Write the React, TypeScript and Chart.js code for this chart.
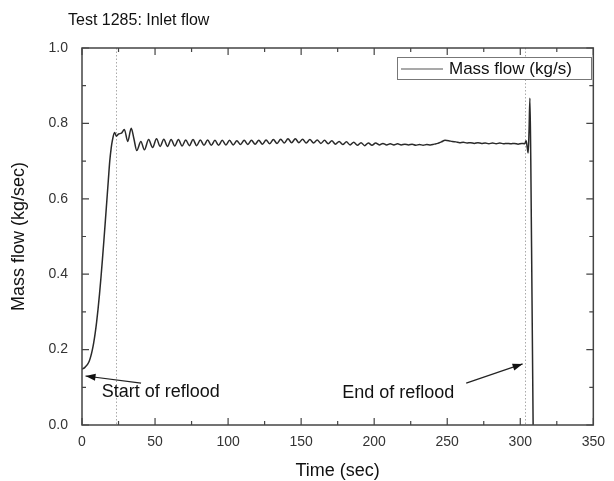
import React, { useEffect, useRef } from "react";
import { Chart, registerables } from "chart.js";

Chart.register(...registerables);

// ---- data ----
const timeSec = [
  0, 1, 2, 3, 4, 5, 6, 7, 8, 9, 10, 11, 12, 13, 14, 15, 16, 17, 18, 19, 20, 20.8, 22.3, 23.5, 25, 27, 29, 31.3,
  33.7, 35.5, 37.5, 40.3, 42.7, 45.6, 48.3,
  51, 53.5, 56, 58.5, 61, 63.5, 66, 68.5, 71, 73.5, 76, 78.5, 81, 83.5, 86, 88.5, 91, 93.5, 96, 98.5,
  101, 103.5, 106, 108.5, 111, 113.5, 116, 118.5, 121, 123.5, 126, 128.5, 131, 133.5, 136, 138.5,
  141, 143.5, 146, 148.5, 151, 153.5, 156, 158.5, 161, 163.5, 166, 168.5, 171, 173.5, 176, 178.5,
  181, 183.5, 186, 188.5, 191, 193.5, 196, 198.5, 201, 203.5, 206, 208.5, 211, 213.5, 216, 218.5,
  221, 223.5, 226, 228.5, 231, 233.5, 236, 238.5, 241, 243.5, 246, 248.5, 251, 253.5, 256, 258.5,
  261, 263.5, 266, 268.5, 271, 273.5, 276, 278.5, 281, 283.5, 286, 288.5, 291, 293.5, 296, 298.5,
  301, 303, 304, 304.8, 305.4, 306, 306.6, 307.2, 308, 308.8,
];
const massFlow = [
  0.148, 0.15, 0.153, 0.157, 0.162, 0.17, 0.182, 0.198, 0.218, 0.243, 0.273, 0.308, 0.348, 0.392, 0.44, 0.49,
  0.542, 0.595, 0.648, 0.7, 0.735, 0.755, 0.776, 0.766, 0.772, 0.774, 0.784, 0.752,
  0.787, 0.76, 0.728, 0.752, 0.73, 0.757, 0.736,
  0.759, 0.739, 0.758, 0.739, 0.757, 0.74, 0.757, 0.74, 0.756, 0.741, 0.757, 0.741, 0.756, 0.742, 0.756, 0.742,
  0.755, 0.742, 0.755, 0.743,
  0.755, 0.743, 0.754, 0.744, 0.755, 0.744, 0.755, 0.745, 0.755, 0.745, 0.756, 0.746, 0.757, 0.747, 0.758, 0.748,
  0.759, 0.749, 0.759, 0.749, 0.758, 0.748, 0.757, 0.748, 0.756, 0.747, 0.755, 0.746, 0.754, 0.745, 0.752, 0.744,
  0.751, 0.743, 0.75, 0.742, 0.749, 0.741, 0.748, 0.742, 0.748, 0.743, 0.747, 0.743, 0.746, 0.743, 0.746, 0.743,
  0.745, 0.743, 0.745, 0.742, 0.744, 0.742, 0.744, 0.743, 0.745, 0.747, 0.751, 0.755, 0.754, 0.752, 0.751, 0.749,
  0.75, 0.748, 0.749, 0.747, 0.749, 0.747, 0.748, 0.746, 0.748, 0.746, 0.748, 0.746, 0.747, 0.746, 0.747, 0.745,
  0.747, 0.746, 0.754, 0.735, 0.722, 0.78, 0.867, 0.7, 0.35, 0,
];

const xTickValues = [0, 50, 100, 150, 200, 250, 300, 350];
const yTickValues = [0, 0.2, 0.4, 0.6, 0.8, 1.0];
const refloodStart = 23.6;
const refloodEnd = 303;

const chartTitle = "Test 1285: Inlet flow";
const seriesLabel = "Mass flow (kg/s)";
const xTitle = "Time (sec)";
const yTitle = "Mass flow (kg/sec)";
const startNote = "Start of reflood";
const endNote = "End of reflood";

// ---- styling / layout constants ----
const W = 614;
const H = 481;
const FONT = "'Liberation Sans', Arial, Helvetica, sans-serif";
const LINE = "#2a2a2a";
const AXIS = "#444";

const decorPlugin = {
  id: "decor",
  beforeDraw(chart: any) {
    const c = chart.ctx;
    c.save();
    c.fillStyle = "#fff";
    c.fillRect(0, 0, chart.width, chart.height);
    c.restore();
  },
  beforeDatasetsDraw(chart: any) {
    const c = chart.ctx;
    const { top, bottom } = chart.chartArea;
    const xs = chart.scales.x;
    c.save();
    c.strokeStyle = "#aaa";
    c.lineWidth = 1;
    c.setLineDash([1.5, 2]);
    [refloodStart, refloodEnd].forEach((t) => {
      const px = Math.round(xs.getPixelForValue(t)) + 0.5;
      c.beginPath();
      c.moveTo(px, top);
      c.lineTo(px, bottom);
      c.stroke();
    });
    c.restore();
  },
  afterDatasetsDraw(chart: any) {
    const c = chart.ctx;
    const { left, right, top, bottom } = chart.chartArea;
    const xs = chart.scales.x;
    const ys = chart.scales.y;
    c.save();
    // border
    c.strokeStyle = AXIS;
    c.lineWidth = 1.5;
    c.strokeRect(left, top, right - left, bottom - top);
    // inner ticks
    c.lineWidth = 1.2;
    const major = 7;
    const minor = 4;
    for (let v = 0; v <= 350; v += 25) {
      const px = xs.getPixelForValue(v);
      const len = v % 50 === 0 ? major : minor;
      c.beginPath();
      c.moveTo(px, bottom);
      c.lineTo(px, bottom - len);
      c.moveTo(px, top);
      c.lineTo(px, top + len);
      c.stroke();
    }
    for (let i = 0; i <= 10; i++) {
      const v = i / 10;
      const py = ys.getPixelForValue(v);
      const len = i % 2 === 0 ? major : minor;
      c.beginPath();
      c.moveTo(left, py);
      c.lineTo(left + len, py);
      c.moveTo(right, py);
      c.lineTo(right - len, py);
      c.stroke();
    }
    // legend
    const lx = 397, ly = 57, lw = 194, lh = 22;
    c.fillStyle = "#fff";
    c.fillRect(lx, ly, lw, lh);
    c.strokeStyle = "#777";
    c.lineWidth = 1;
    c.strokeRect(lx + 0.5, ly + 0.5, lw, lh);
    c.strokeStyle = "#555";
    c.lineWidth = 1.2;
    c.beginPath();
    c.moveTo(lx + 4, ly + lh / 2 + 1);
    c.lineTo(lx + 46, ly + lh / 2 + 1);
    c.stroke();
    c.fillStyle = "#111";
    c.font = `17px ${FONT}`;
    c.textBaseline = "middle";
    c.textAlign = "left";
    c.fillText(seriesLabel, lx + 52, ly + lh / 2 + 1);
    // title
    c.font = `16px ${FONT}`;
    c.fillStyle = "#111";
    c.fillText(chartTitle, 68, 21);
    // axis titles
    c.font = `18px ${FONT}`;
    c.textAlign = "center";
    c.fillText(xTitle, (left + right) / 2, 471);
    c.save();
    c.translate(19, (top + bottom) / 2);
    c.rotate(-Math.PI / 2);
    c.fillText(yTitle, 0, 0);
    c.restore();
    // annotations
    c.textAlign = "left";
    c.fillText(startNote, xs.getPixelForValue(13.5), ys.getPixelForValue(0.088));
    c.textAlign = "right";
    c.fillText(endNote, xs.getPixelForValue(254.8), ys.getPixelForValue(0.085));
    const arrow = (x1: number, y1: number, x2: number, y2: number) => {
      const ax = xs.getPixelForValue(x1), ay = ys.getPixelForValue(y1);
      const bx = xs.getPixelForValue(x2), by = ys.getPixelForValue(y2);
      c.strokeStyle = "#222";
      c.fillStyle = "#111";
      c.lineWidth = 1.2;
      c.beginPath();
      c.moveTo(ax, ay);
      c.lineTo(bx, by);
      c.stroke();
      const ang = Math.atan2(by - ay, bx - ax);
      const hl = 10, hw = 3.5;
      c.beginPath();
      c.moveTo(bx, by);
      c.lineTo(bx - hl * Math.cos(ang) + hw * Math.sin(ang), by - hl * Math.sin(ang) - hw * Math.cos(ang));
      c.lineTo(bx - hl * Math.cos(ang) - hw * Math.sin(ang), by - hl * Math.sin(ang) + hw * Math.cos(ang));
      c.closePath();
      c.fill();
    };
    arrow(40.4, 0.111, 2.4, 0.13);
    arrow(263, 0.111, 301.6, 0.162);
    c.restore();
  },
};

export default function App() {
  const ref = useRef<HTMLCanvasElement | null>(null);
  useEffect(() => {
    document.body.style.margin = "0";
    const canvas = ref.current!;
    const points = timeSec.map((t, i) => ({ x: t, y: massFlow[i] }));
    const chart = new Chart(canvas, {
      type: "line",
      data: {
        datasets: [
          {
            label: seriesLabel,
            data: points,
            borderColor: LINE,
            borderWidth: 1.5,
            pointRadius: 0,
            cubicInterpolationMode: "monotone",
            fill: false,
          },
        ],
      },
      options: {
        animation: false,
        responsive: false,
        devicePixelRatio: 1,
        layout: { padding: { top: 48, right: 15, left: 0, bottom: 0 } },
        plugins: {
          legend: { display: false },
          title: { display: false },
          tooltip: { enabled: false },
        },
        scales: {
          x: {
            type: "linear",
            min: 0,
            max: 350,
            afterFit: (s: any) => {
              s.height = 56;
            },
            afterBuildTicks: (s: any) => {
              s.ticks = xTickValues.map((v) => ({ value: v }));
            },
            grid: { display: false, drawTicks: false },
            border: { display: false },
            ticks: {
              padding: 9,
              color: "#333",
              font: { family: FONT, size: 14 },
              maxRotation: 0,
            },
          },
          y: {
            min: 0,
            max: 1,
            afterFit: (s: any) => {
              s.width = 82;
            },
            afterBuildTicks: (s: any) => {
              s.ticks = yTickValues.map((v) => ({ value: v }));
            },
            grid: { display: false, drawTicks: false },
            border: { display: false },
            ticks: {
              padding: 14,
              color: "#333",
              font: { family: FONT, size: 14 },
              callback: (v: any) => Number(v).toFixed(1),
            },
          },
        },
      },
      plugins: [decorPlugin],
    });
    return () => chart.destroy();
  }, []);
  return (
    <div style={{ width: W, height: H }}>
      <canvas ref={ref} width={W} height={H} style={{ display: "block" }} />
    </div>
  );
}
